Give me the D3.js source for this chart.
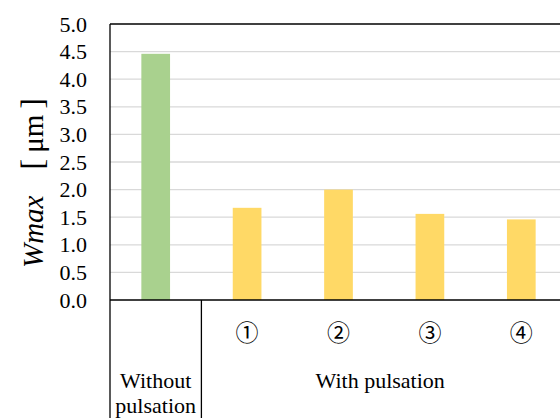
<html>
<head>
<meta charset="utf-8">
<script src="https://cdn.jsdelivr.net/npm/d3@7"></script>
<style>
  text { font-family: "Liberation Serif", Tinos, "Times New Roman", "DejaVu Serif", "Noto Serif" !important; }
  text.circled { font-family: "Noto Sans CJK JP", "DejaVu Sans" !important; }
</style>
</head>
<body style="margin:0">
<svg id="chart" width="560" height="418" style="display: block"></svg>
<script>
// Maximum width per condition
const categories = ["Without pulsation", "①", "②", "③", "④"];
const values = [4.46, 1.67, 2.0, 1.56, 1.46];
const groups = ["without", "with", "with", "with", "with"];
const yTicks = [0, 0.5, 1, 1.5, 2, 2.5, 3, 3.5, 4, 4.5, 5];
const groupLabels = ["Without", "pulsation", "With pulsation"];

const svg = d3.select("#chart");

const mLeft = 110, mTop = 24, mBottom = 300;
const band = 91.4;
const mRight = mLeft + band * categories.length;

const x = d3.scaleBand().domain(d3.range(categories.length)).range([mLeft, mRight]).paddingInner(0.686).paddingOuter(0.343);
const y = d3.scaleLinear().domain([0, 5]).range([mBottom, mTop]);

// gridlines
svg.append("g").selectAll("line").data(yTicks.filter(t => t > 0 && t < 5)).join("line")
  .attr("x1", mLeft).attr("x2", 560)
  .attr("y1", d => y(d)).attr("y2", d => y(d))
  .attr("stroke", "#d9d9d9").attr("stroke-width", 1.3);

// bars
svg.append("g").selectAll("rect").data(values).join("rect")
  .attr("x", (d, i) => x(i))
  .attr("width", x.bandwidth())
  .attr("y", d => y(d))
  .attr("height", d => y(0) - y(d))
  .attr("fill", (d, i) => groups[i] === "without" ? "#a9d18e" : "#ffd966");

// y axis
const yAxis = d3.axisLeft(y).tickValues(yTicks).tickFormat(d3.format(".1f")).tickSize(0).tickPadding(23);
const ga = svg.append("g").attr("transform", `translate(${mLeft},0)`).call(yAxis);
ga.select(".domain").remove();
ga.attr("font-family", null).attr("font-size", null);
ga.selectAll("text").attr("font-family", "Liberation Serif").style("font-size", "22px").attr("fill", "#000");

// frame lines
const lineAttrs = s => s.attr("stroke", "#000").attr("stroke-width", 1.3);
svg.append("line").attr("x1", mLeft).attr("x2", 560).attr("y1", mTop).attr("y2", mTop).call(lineAttrs);
svg.append("line").attr("x1", mLeft).attr("x2", 560).attr("y1", mBottom).attr("y2", mBottom).call(lineAttrs);
svg.append("line").attr("x1", mLeft).attr("x2", mLeft).attr("y1", mTop).attr("y2", 418).call(lineAttrs);
svg.append("line").attr("x1", mLeft + band).attr("x2", mLeft + band).attr("y1", mBottom).attr("y2", 418).call(lineAttrs);

// circled numbers
svg.append("g").selectAll("text").data(categories.slice(1)).join("text")
  .attr("class", "circled")
  .attr("x", (d, i) => x(i + 1) + x.bandwidth() / 2)
  .attr("y", 341)
  .attr("text-anchor", "middle")
  .style("font-size", "23px")
  .text(d => d);

// group labels
const g1 = svg.append("text").attr("text-anchor", "middle")
  .attr("font-family", "Liberation Serif").style("font-size", "22px");
g1.append("tspan").attr("x", mLeft + band / 2).attr("y", 388).text(groupLabels[0]);
g1.append("tspan").attr("x", mLeft + band / 2).attr("y", 413).text(groupLabels[1]);
svg.append("text").attr("text-anchor", "middle")
  .attr("font-family", "Liberation Serif").style("font-size", "22px")
  .attr("x", (mLeft + band + mRight) / 2 - 4).attr("y", 388).text(groupLabels[2]);

// y axis title
const t = svg.append("text")
  .attr("transform", "translate(43,268) rotate(-90)")
  .attr("text-anchor", "start")
  .attr("font-family", "Liberation Serif").style("font-size", "29px");
t.append("tspan").style("font-style", "italic").text("Wmax");
t.append("tspan").attr("dx", 26).style("font-size", "32px").text("[");
t.append("tspan").attr("dx", 6).text("μm");
t.append("tspan").attr("dx", 6).style("font-size", "32px").text("]");
</script>
</body>
</html>
